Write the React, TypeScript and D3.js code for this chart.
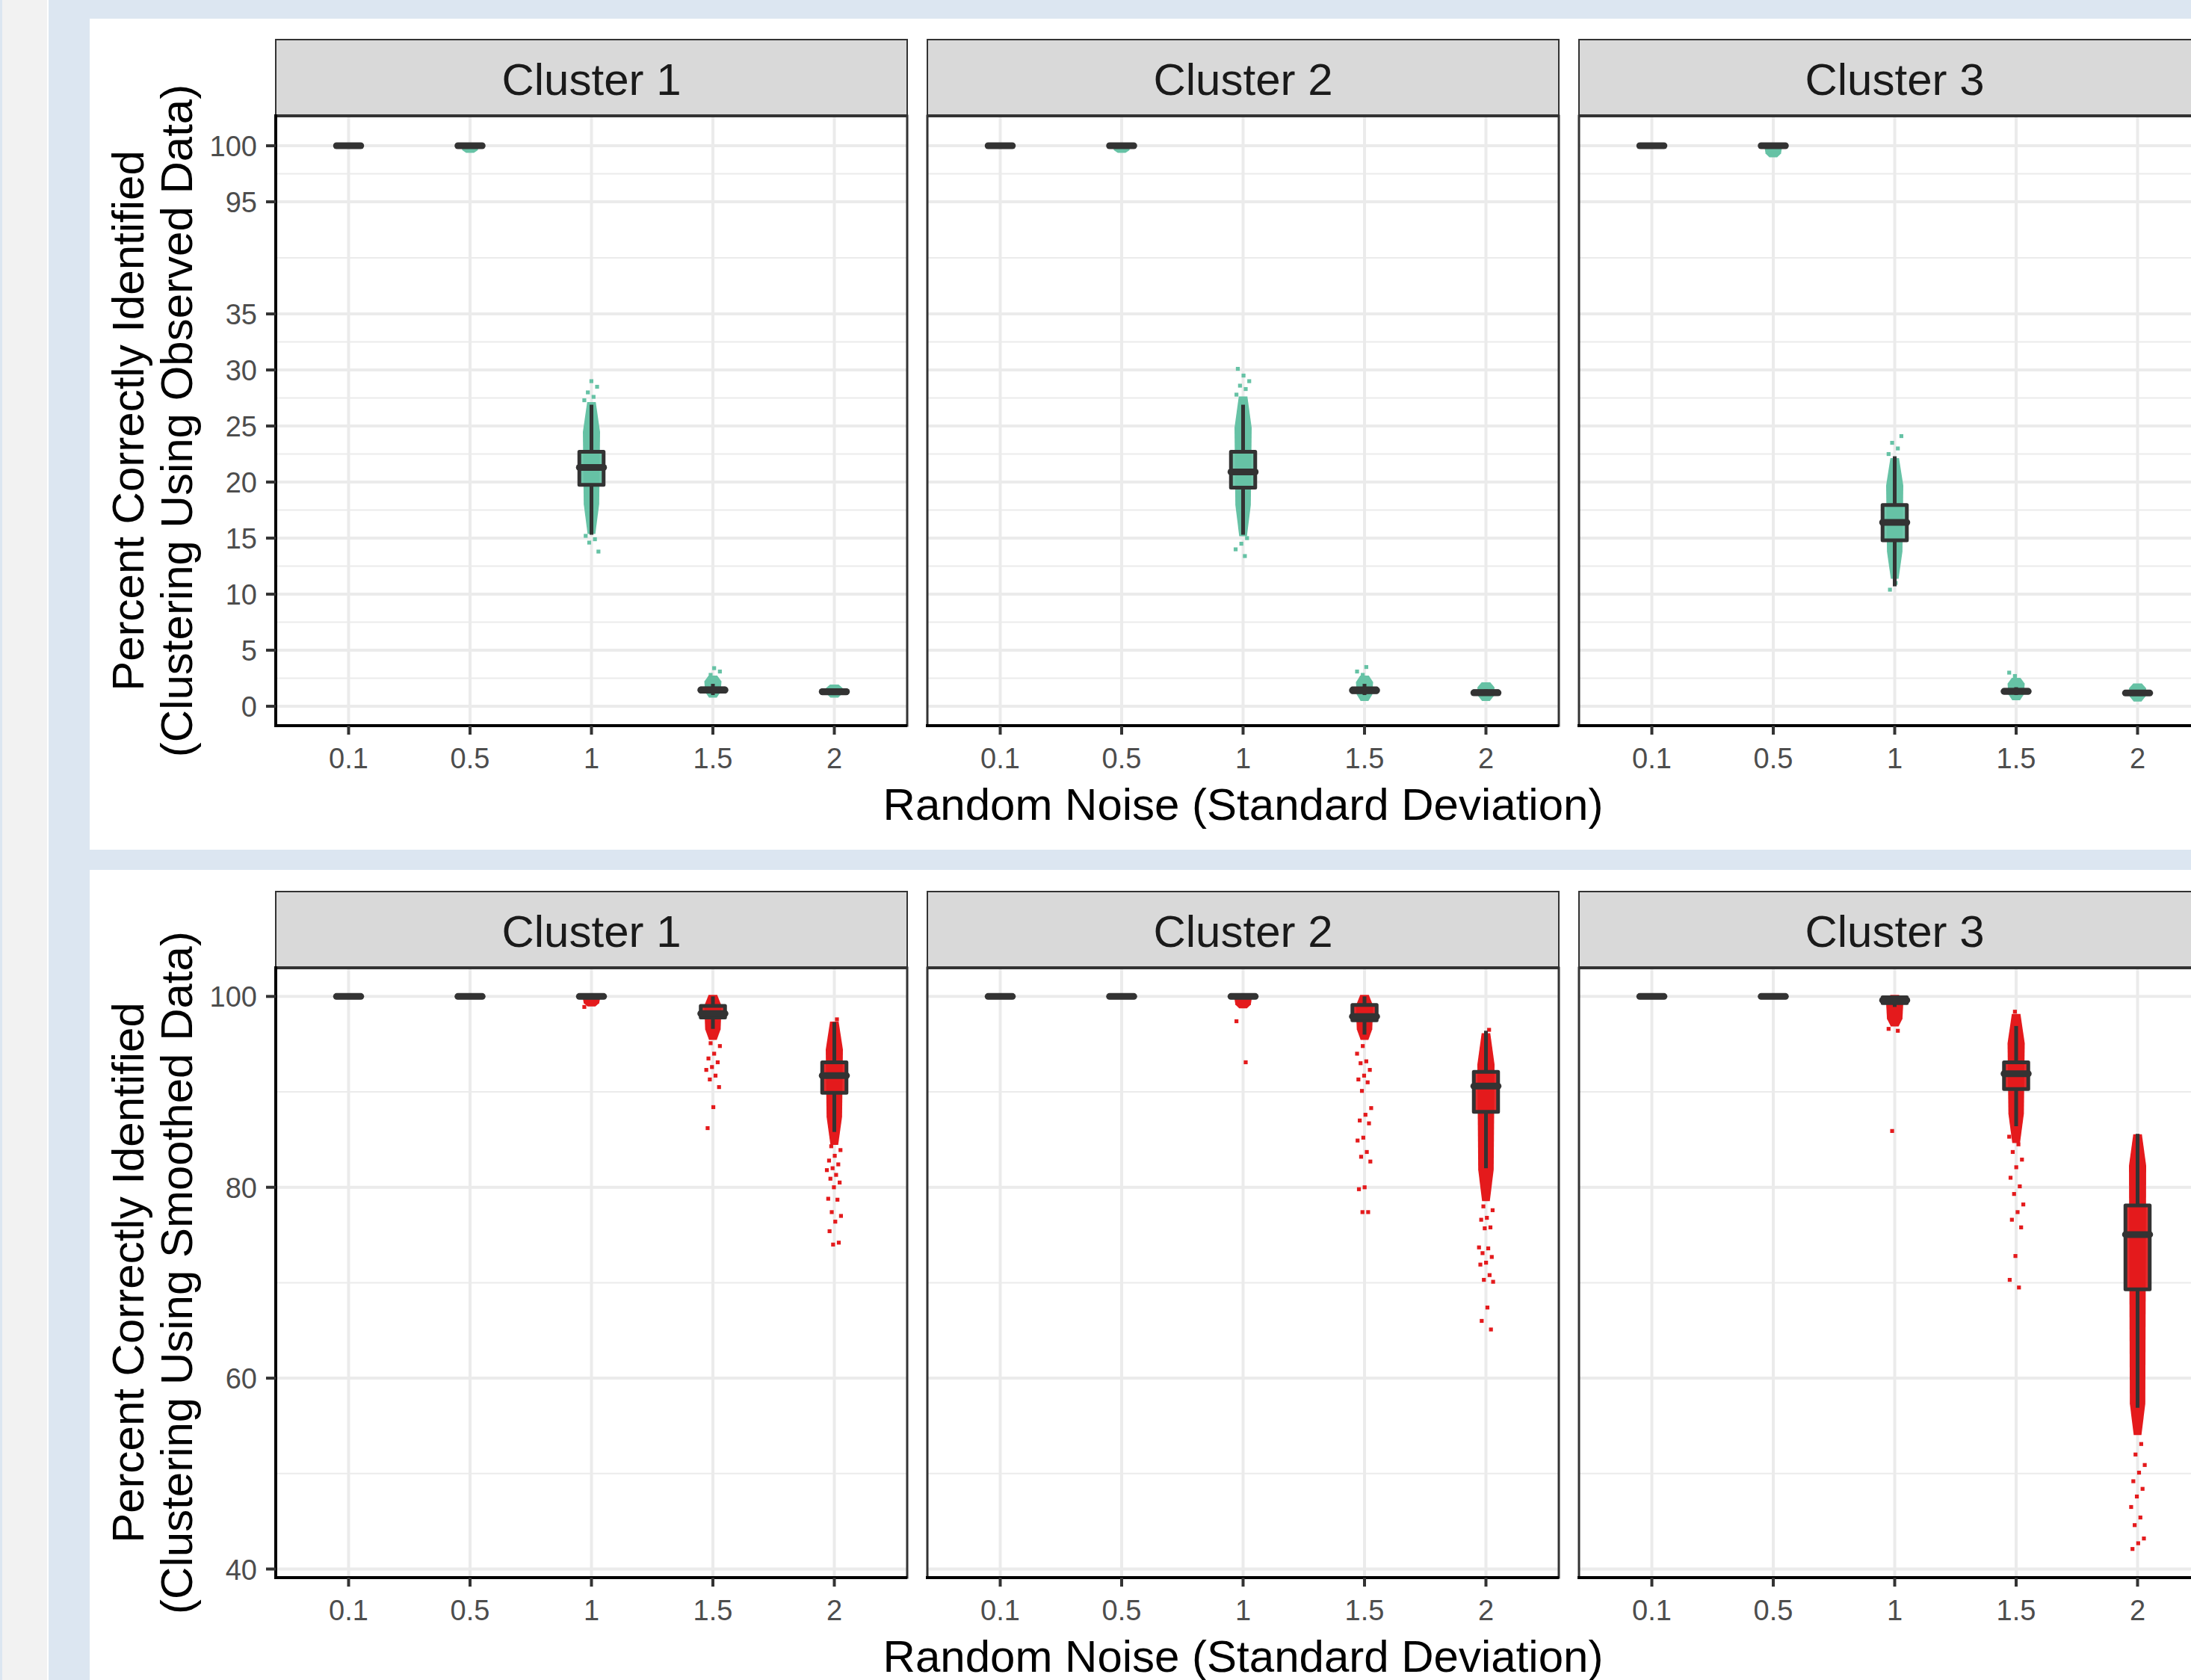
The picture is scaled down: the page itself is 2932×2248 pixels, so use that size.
import React from 'react';
import * as d3 from 'd3';

const W = 2932;
const H = 2248;
const FONT = '"Liberation Sans", Arial, sans-serif';

const NOISE = ['0.1', '0.5', '1', '1.5', '2'];
const CLUSTERS = ['Cluster 1', 'Cluster 2', 'Cluster 3'];

// Box stats per noise level: [lower whisker, Q1, median, Q3, upper whisker]
const OBS_BOX_C1 = [[100, 100, 100, 100, 100], [100, 100, 100, 100, 100], [15.3, 19.75, 21.3, 22.7, 26.9], [1.0, 1.3, 1.45, 1.6, 2.0], [1.0, 1.15, 1.3, 1.4, 1.6]];
const OBS_BOX_C2 = [[100, 100, 100, 100, 100], [100, 100, 100, 100, 100], [15.3, 19.5, 20.9, 22.7, 26.9], [1.0, 1.25, 1.42, 1.6, 2.0], [1.0, 1.1, 1.2, 1.35, 1.5]];
const OBS_BOX_C3 = [[100, 100, 100, 100, 100], [100, 100, 100, 100, 100], [10.7, 14.8, 16.4, 17.95, 22.3], [1.0, 1.2, 1.33, 1.45, 1.7], [1.0, 1.1, 1.18, 1.3, 1.45]];

// Dense part of the jittered point cloud: [low, high]
const OBS_CORE_C1 = [[100, 100], [99.5, 100], [15.5, 27.0], [0.9, 2.6], [0.9, 1.8]];
const OBS_CORE_C2 = [[100, 100], [99.5, 100], [15.3, 27.5], [0.6, 2.6], [0.6, 2.0]];
const OBS_CORE_C3 = [[100, 100], [99.1, 100], [11.5, 22.0], [0.67, 2.4], [0.55, 1.9]];

// Sparse individual points outside the dense cloud
const OBS_PTS_C1 = [[], [], [27.3, 27.6, 28.0, 28.5, 29.0, 15.2, 14.9, 14.6, 13.8], [2.8, 3.1, 3.4], []];
const OBS_PTS_C2 = [[], [], [27.8, 28.3, 28.6, 29.0, 29.5, 30.1, 15.0, 14.5, 14.0, 13.4], [2.8, 3.1, 3.5], []];
const OBS_PTS_C3 = [[], [], [22.5, 23.0, 23.5, 24.1, 11.0, 10.4], [2.7, 3.0], []];

const SMO_BOX_C1 = [[100, 100, 100, 100, 100], [100, 100, 100, 100, 100], [99.8, 100, 100, 100, 100], [96.6, 97.8, 98.2, 99.0, 100], [85.8, 89.9, 91.7, 93.1, 97.3]];
const SMO_BOX_C2 = [[100, 100, 100, 100, 100], [100, 100, 100, 100, 100], [100, 100, 100, 100, 100], [96.0, 97.5, 97.9, 99.1, 100], [82.0, 87.9, 90.6, 92.1, 96.4]];
const SMO_BOX_C3 = [[100, 100, 100, 100, 100], [100, 100, 100, 100, 100], [98.9, 99.3, 99.6, 99.9, 100], [86.4, 90.3, 91.9, 93.1, 96.9], [56.9, 69.3, 75.05, 78.1, 85.6]];

const SMO_CORE_C1 = [[100, 100], [100, 100], [99.1, 100], [95.6, 100], [84.6, 97.2]];
const SMO_CORE_C2 = [[100, 100], [100, 100], [98.9, 100], [95.6, 100], [78.7, 96.0]];
const SMO_CORE_C3 = [[100, 100], [100, 100], [97.0, 100], [84.8, 98.0], [54.2, 85.4]];

const SMO_PTS_C1 = [[], [], [98.9], [95.1, 94.8, 94.0, 93.5, 93.1, 92.6, 92.3, 91.7, 91.3, 90.5, 88.4, 86.2], [97.6, 84.3, 83.9, 83.3, 82.8, 82.4, 82.0, 81.8, 81.3, 80.9, 80.5, 80.0, 78.8, 78.7, 77.4, 77.0, 76.4, 75.4, 74.2, 74.0]];
const SMO_PTS_C2 = [[], [], [97.4, 93.1], [94.8, 94.0, 93.2, 93.0, 92.3, 91.7, 91.3, 91.0, 90.1, 88.3, 87.6, 87.0, 86.7, 85.2, 84.9, 83.7, 83.2, 82.7, 80.0, 79.8, 77.4, 77.4], [96.5, 78.0, 77.6, 76.8, 76.6, 75.8, 75.7, 73.7, 73.6, 73.1, 72.7, 72.1, 71.9, 70.8, 70.3, 70.1, 67.4, 66.0, 65.1]];
const SMO_PTS_C3 = [[], [], [96.6, 96.4, 85.9], [98.4, 85.3, 84.5, 83.7, 82.9, 82.1, 81.0, 80.1, 79.3, 78.2, 77.4, 76.6, 75.8, 72.8, 70.3, 69.5], [53.1, 52.0, 50.9, 50.1, 49.2, 48.4, 47.6, 46.5, 45.4, 44.6, 43.2, 42.7, 42.1]];

const OBS_TICKS = [0, 5, 10, 15, 20, 25, 30, 35, 95, 100];
const OBS_MINOR = [2.5, 7.5, 12.5, 17.5, 22.5, 27.5, 32.5, 65, 97.5];
const SMO_TICKS = [40, 60, 80, 100];
const SMO_MINOR = [50, 70, 90];

const OBS_COLOR = '#66c2a5';
const SMO_COLOR = '#e41a1c';

// Layout
const PANEL_X0 = 369;
const PANEL_W = 845;
const PANEL_GAP = 27;
const STRIP_TOP = 28;
const PANEL_TOP = 130;
const PANEL_BOTTOM = 946;

const jit = (i: number) => (((i * 0.6180339887 + 0.37) % 1) * 2 - 1);

type ChartProps = {
  T: number;
  title2: string;
  boxes: number[][][];
  cores: number[][][];
  pts: number[][][];
  makeY: (top: number, bottom: number) => d3.ScaleLinear<number, number>;
  ticks: number[];
  minor: number[];
  color: string;
};

function Chart({ T, title2, boxes, cores, pts, makeY, ticks, minor, color }: ChartProps) {
  const top = T + PANEL_TOP;
  const bottom = T + PANEL_BOTTOM;
  const y = makeY(top, bottom);
  const gray = '#333333';
  return (
    <g>
      {CLUSTERS.map((cl, ci) => {
        const left = PANEL_X0 + ci * (PANEL_W + PANEL_GAP);
        const x = d3.scalePoint<string>().domain(NOISE).range([left, left + PANEL_W]).padding(0.6);
        const step = x.step();
        const bw = step * 0.2;
        const jw = 10;
        return (
          <g key={cl}>
            {minor.map((v) => (
              <line key={'mi' + v} x1={left} x2={left + PANEL_W} y1={y(v)} y2={y(v)} stroke="#ebebeb" strokeWidth={2} />
            ))}
            {ticks.map((v) => (
              <line key={'ma' + v} x1={left} x2={left + PANEL_W} y1={y(v)} y2={y(v)} stroke="#ebebeb" strokeWidth={4} />
            ))}
            {NOISE.map((n) => (
              <line key={'vx' + n} x1={x(n)} x2={x(n)} y1={top} y2={bottom} stroke="#ebebeb" strokeWidth={4} />
            ))}
            {NOISE.map((n, ni) => {
              const cx = x(n) as number;
              const [lo, hi] = cores[ci][ni];
              const yl = y(lo);
              const yh = y(hi);
              const len = yl - yh;
              const hw = jw + 1.5;
              const taper = Math.min(len * 0.22, 40);
              const poly = len > 0.5
                ? [
                    [cx - hw * 0.45, yl + 2],
                    [cx - hw * 0.9, yl - taper],
                    [cx - hw, yh + taper],
                    [cx - hw * 0.5, yh - 2],
                    [cx + hw * 0.5, yh - 2],
                    [cx + hw, yh + taper],
                    [cx + hw * 0.9, yl - taper],
                    [cx + hw * 0.45, yl + 2],
                  ]
                : null;
              return (
                <g key={'pc' + n}>
                  {poly && <polygon points={poly.map((p) => p.join(',')).join(' ')} fill={color} />}
                  {pts[ci][ni].map((v, i) => (
                    <rect key={i} x={cx + jit(i + ni * 7 + ci * 13) * jw - 2.6} y={y(v) - 2.6} width={5.2} height={5.2} fill={color} />
                  ))}
                </g>
              );
            })}
            {NOISE.map((n, ni) => {
              const cx = x(n) as number;
              const [wl, q1, md, q3, wh] = boxes[ci][ni];
              return (
                <g key={'bx' + n}>
                  <line x1={cx} x2={cx} y1={y(wh)} y2={y(q3)} stroke={gray} strokeWidth={5} />
                  <line x1={cx} x2={cx} y1={y(q1)} y2={y(wl)} stroke={gray} strokeWidth={5} />
                  <rect x={cx - bw / 2} y={y(q3)} width={bw} height={Math.max(0, y(q1) - y(q3))} fill={color} fillOpacity={0.92} stroke={gray} strokeWidth={5} strokeLinejoin="round" />
                  <line x1={cx - bw / 2} x2={cx + bw / 2} y1={y(md)} y2={y(md)} stroke={gray} strokeWidth={9} strokeLinecap="round" />
                </g>
              );
            })}
            <rect x={left} y={top} width={PANEL_W} height={bottom - top} fill="none" stroke={gray} strokeWidth={3} />
            <rect x={left} y={T + STRIP_TOP} width={PANEL_W} height={PANEL_TOP - STRIP_TOP} fill="#d9d9d9" stroke={gray} strokeWidth={2} />
            <line x1={left} x2={left + PANEL_W} y1={top} y2={top} stroke={gray} strokeWidth={4} />
            <text x={left + PANEL_W / 2} y={T + 102} textAnchor="middle" fontSize={60} fill="#1a1a1a" fontFamily={FONT}>{cl}</text>
            <line x1={left - 2} x2={left + PANEL_W} y1={bottom} y2={bottom} stroke="#000" strokeWidth={4} />
            {NOISE.map((n) => (
              <g key={'xt' + n}>
                <line x1={x(n)} x2={x(n)} y1={bottom} y2={bottom + 12} stroke={gray} strokeWidth={4} />
                <text x={x(n)} y={bottom + 57} textAnchor="middle" fontSize={38} fill="#4d4d4d" fontFamily={FONT}>{n}</text>
              </g>
            ))}
            {ci === 0 && (
              <g>
                <line x1={left} x2={left} y1={top - 2} y2={bottom + 2} stroke="#000" strokeWidth={4} />
                {ticks.map((v) => (
                  <g key={'yt' + v}>
                    <line x1={left - 13} x2={left} y1={y(v)} y2={y(v)} stroke={gray} strokeWidth={4} />
                    <text x={left - 25} y={y(v) + 14} textAnchor="end" fontSize={38} fill="#4d4d4d" fontFamily={FONT}>{v}</text>
                  </g>
                ))}
              </g>
            )}
          </g>
        );
      })}
      <text transform={`translate(192,${(top + bottom) / 2}) rotate(-90)`} textAnchor="middle" fontSize={60} fill="#000" fontFamily={FONT}>Percent Correctly Identified</text>
      <text transform={`translate(257,${(top + bottom) / 2}) rotate(-90)`} textAnchor="middle" fontSize={60} fill="#000" fontFamily={FONT}>{title2}</text>
      <text x={(PANEL_X0 + PANEL_X0 + 3 * PANEL_W + 2 * PANEL_GAP) / 2} y={T + 1071.7} textAnchor="middle" fontSize={60} fill="#000" fontFamily={FONT}>Random Noise (Standard Deviation)</text>
    </g>
  );
}

const makeObsY = (top: number, bottom: number) => {
  const u = (bottom - top) / 54.4;
  return d3.scaleLinear().domain([-1.73, 35, 95, 102.67]).range([bottom, bottom - 36.73 * u, bottom - 46.73 * u, top]);
};
const makeSmoY = (top: number, bottom: number) => d3.scaleLinear().domain([39.1, 103.0]).range([bottom, top]);

export default function App() {
  return (
    <div style={{ position: 'absolute', left: 0, top: 0 }}>
      <svg width={W} height={H} style={{ display: 'block' }}>
        <rect x={0} y={0} width={W} height={H} fill="#dce6f1" />
        <rect x={3} y={0} width={60} height={H} fill="#f2f2f2" />
        <rect x={63} y={0} width={2} height={H} fill="#ffffff" />
        <rect x={120} y={25} width={W - 120} height={1112} fill="#ffffff" />
        <rect x={120} y={1164} width={W - 120} height={H - 1164} fill="#ffffff" />
        <Chart
          T={25}
          title2="(Clustering Using Observed Data)"
          boxes={[OBS_BOX_C1, OBS_BOX_C2, OBS_BOX_C3]}
          cores={[OBS_CORE_C1, OBS_CORE_C2, OBS_CORE_C3]}
          pts={[OBS_PTS_C1, OBS_PTS_C2, OBS_PTS_C3]}
          makeY={makeObsY}
          ticks={OBS_TICKS}
          minor={OBS_MINOR}
          color={OBS_COLOR}
        />
        <Chart
          T={1165}
          title2="(Clustering Using Smoothed Data)"
          boxes={[SMO_BOX_C1, SMO_BOX_C2, SMO_BOX_C3]}
          cores={[SMO_CORE_C1, SMO_CORE_C2, SMO_CORE_C3]}
          pts={[SMO_PTS_C1, SMO_PTS_C2, SMO_PTS_C3]}
          makeY={makeSmoY}
          ticks={SMO_TICKS}
          minor={SMO_MINOR}
          color={SMO_COLOR}
        />
      </svg>
    </div>
  );
}
